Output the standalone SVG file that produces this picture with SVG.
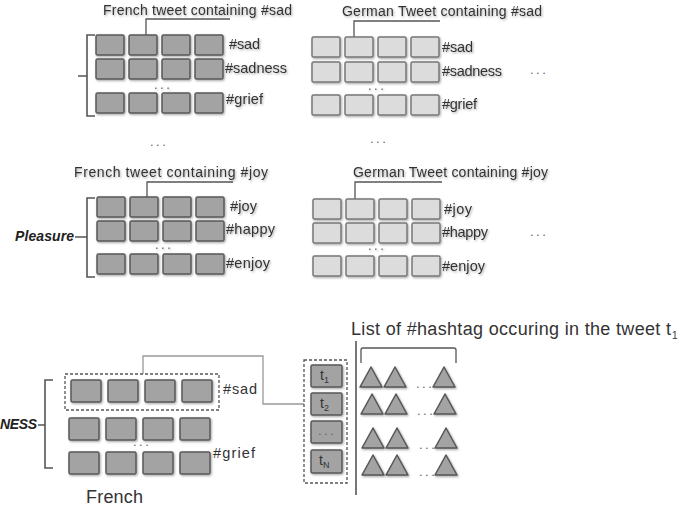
<svg xmlns="http://www.w3.org/2000/svg" width="686" height="508" viewBox="0 0 686 508">
<style>
text{font-family:"Liberation Sans",Arial,sans-serif;fill:#333}
.ttl{font-size:14px}
.lbl{font-size:14.5px}
.dots{font-size:13px;fill:#666;letter-spacing:2.5px}
.dk{fill:#a3a3a3;stroke:#5a5a5a;stroke-width:1.5}
.lt{fill:#dcdcdc;stroke:#777;stroke-width:1.5}
.tri{fill:#a3a3a3;stroke:#555;stroke-width:1.5;stroke-linejoin:round}
.ln{fill:none;stroke:#555;stroke-width:1.3}
.lnl{fill:none;stroke:#999;stroke-width:1.3}
.br{fill:none;stroke:#555;stroke-width:1.6}
.dash{fill:none;stroke:#555;stroke-width:1.3;stroke-dasharray:3 2}
.bi{font-weight:bold;font-style:italic;font-size:14px;fill:#222}
</style>
<defs>
<filter id="sh" x="-20%" y="-20%" width="150%" height="150%">
<feDropShadow dx="1" dy="1.2" stdDeviation="0.8" flood-color="#000" flood-opacity="0.35"/>
</filter>
<g id="rowD"><rect class="dk" x="0" y="0" width="28" height="20" rx="1.5"/><rect class="dk" x="33" y="0" width="28" height="20" rx="1.5"/><rect class="dk" x="66" y="0" width="28" height="20" rx="1.5"/><rect class="dk" x="99" y="0" width="28" height="20" rx="1.5"/></g>
<g id="rowL"><rect class="lt" x="0" y="0" width="28" height="20" rx="1.5"/><rect class="lt" x="33" y="0" width="28" height="20" rx="1.5"/><rect class="lt" x="66" y="0" width="28" height="20" rx="1.5"/><rect class="lt" x="99" y="0" width="28" height="20" rx="1.5"/></g>
<g id="rowB"><rect class="dk" x="0" y="0" width="30" height="22" rx="1.5"/><rect class="dk" x="37" y="0" width="30" height="22" rx="1.5"/><rect class="dk" x="74" y="0" width="30" height="22" rx="1.5"/><rect class="dk" x="111" y="0" width="30" height="22" rx="1.5"/></g>
<g id="triRow"><path class="tri" d="M0 20 L11 0 L22 20 Z"/><path class="tri" d="M24 20 L35 0 L46 20 Z"/><path class="tri" d="M73 20 L84 0 L95 20 Z"/></g>
</defs>

<g id="connectors">
<path class="ln" d="M146 35 V19 H230"/>
<path class="ln" d="M354 37 V21 H440"/>
<path class="ln" d="M147 197 V182 H233"/>
<path class="ln" d="M355 199 V182 H442"/>
<path class="lnl" d="M143 374 V356 H263 V404 H304"/>
<path class="br" d="M95 35 H87 V116 H95 M87 76 H78"/>
<path class="br" d="M95 198 H87 V277 H95 M87 237 H75"/>
<path class="br" d="M53 380 H45 V468 H53 M45 425 H38"/>
<path class="br" d="M356 341 V495"/>
<path class="ln" d="M361 363 V350 Q361 348 363 348 H454 Q456 348 456 350 V363"/>
</g>

<g id="french-sad" filter="url(#sh)">
<text class="ttl" x="103" y="15" textLength="189">French tweet containing #sad</text>
<use href="#rowD" x="96" y="35"/>
<use href="#rowD" x="96" y="59"/>
<use href="#rowD" x="96" y="93"/>
<text class="lbl" x="229" y="49" textLength="31">#sad</text>
<text class="lbl" x="225" y="73" textLength="62">#sadness</text>
<text class="lbl" x="226" y="104" textLength="37">#grief</text>
<text class="dots" x="154" y="89">...</text>
</g>
<text class="dots" x="150" y="146">...</text>

<g id="german-sad" filter="url(#sh)">
<text class="ttl" x="342" y="16" textLength="200">German Tweet containing #sad</text>
<use href="#rowL" x="312" y="37"/>
<use href="#rowL" x="312" y="62"/>
<use href="#rowL" x="312" y="95"/>
<text class="lbl" x="442" y="52" textLength="31">#sad</text>
<text class="lbl" x="442" y="76" textLength="60">#sadness</text>
<text class="lbl" x="442" y="109" textLength="35">#grief</text>
<text class="dots" x="368" y="90">...</text>
</g>
<text class="dots" x="530" y="74">...</text>
<text class="dots" x="370" y="143">...</text>

<g id="french-joy" filter="url(#sh)">
<text class="ttl" x="74" y="177" textLength="194">French tweet containing #joy</text>
<use href="#rowD" x="97" y="197"/>
<use href="#rowD" x="97" y="221"/>
<use href="#rowD" x="97" y="254"/>
<text class="lbl" x="230" y="211" textLength="27">#joy</text>
<text class="lbl" x="226" y="234" textLength="49">#happy</text>
<text class="lbl" x="226" y="268" textLength="44">#enjoy</text>
<text class="dots" x="155" y="249">...</text>
</g>
<text class="bi" x="15" y="241" textLength="59">Pleasure</text>

<g id="german-joy" filter="url(#sh)">
<text class="ttl" x="353" y="177" textLength="195">German Tweet containing #joy</text>
<use href="#rowL" x="313" y="199"/>
<use href="#rowL" x="313" y="223"/>
<use href="#rowL" x="313" y="256"/>
<text class="lbl" x="444" y="214" textLength="28">#joy</text>
<text class="lbl" x="442" y="237" textLength="46">#happy</text>
<text class="lbl" x="442" y="271" textLength="43">#enjoy</text>
<text class="dots" x="368" y="250">...</text>
</g>
<text class="dots" x="530" y="236">...</text>

<g id="french-bottom">
<rect class="dash" x="65" y="374" width="154" height="36"/>
<g filter="url(#sh)">
<use href="#rowB" x="71" y="380"/>
<use href="#rowB" x="69" y="418"/>
<use href="#rowB" x="69" y="452"/>
</g>
<text class="lbl" x="223" y="394" font-size="15" textLength="34">#sad</text>
<text class="lbl" x="213" y="458" font-size="15" textLength="42">#grief</text>
<text class="dots" x="133" y="446">...</text>
<text x="86" y="503" font-size="18" textLength="57">French</text>
</g>
<text class="bi" x="0" y="429" textLength="37">NESS</text>

<g id="tweets">
<rect class="dash" x="304" y="360" width="43" height="123"/>
<g filter="url(#sh)">
<rect class="dk" x="311" y="365" width="31" height="22" rx="1.5"/>
<rect class="dk" x="311" y="393" width="31" height="22" rx="1.5"/>
<rect class="dk" x="311" y="421" width="31" height="22" rx="1.5"/>
<rect class="dk" x="311" y="450" width="31" height="23" rx="1.5"/>
</g>
<text x="320" y="380" font-size="14">t<tspan font-size="9" dy="3">1</tspan></text>
<text x="320" y="408" font-size="14">t<tspan font-size="9" dy="3">2</tspan></text>
<text class="dots" x="318" y="435" font-size="10" letter-spacing="1">...</text>
<text x="319" y="465" font-size="14">t<tspan font-size="9" dy="3">N</tspan></text>
</g>

<g id="hashtags">
<text x="351" y="335" font-size="18" textLength="320">List of #hashtag occuring in the tweet t</text>
<text x="672" y="339" font-size="10">1</text>
<g filter="url(#sh)">
<use href="#triRow" x="360" y="367"/>
<use href="#triRow" x="361" y="394"/>
<use href="#triRow" x="362" y="428"/>
<use href="#triRow" x="362" y="455"/>
</g>
<text class="dots" x="416" y="388" font-size="10" letter-spacing="1">...</text>
<text class="dots" x="417" y="415" font-size="10" letter-spacing="1">...</text>
<text class="dots" x="419" y="449" font-size="10" letter-spacing="1">...</text>
<text class="dots" x="419" y="476" font-size="10" letter-spacing="1">...</text>
</g>
</svg>
